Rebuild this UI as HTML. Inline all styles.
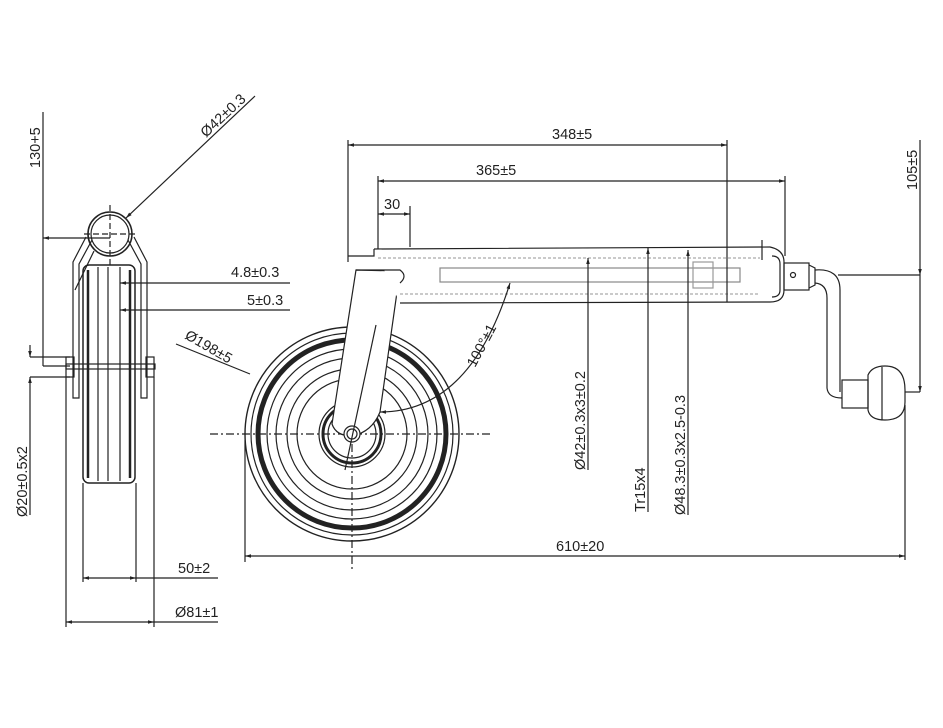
<!DOCTYPE html>
<html><head><meta charset="utf-8"><style>
html,body{margin:0;padding:0;background:#fff;}
svg{display:block;}
text{font-family:"Liberation Sans",sans-serif;font-size:14.5px;fill:#222;}
</style></head><body>
<svg width="943" height="728" viewBox="0 0 943 728" xmlns="http://www.w3.org/2000/svg">
<defs>
<marker id="a" viewBox="0 0 10 10" refX="10" refY="5" markerWidth="7" markerHeight="5" orient="auto-start-reverse"><path d="M0,2 L10,5 L0,8 z" fill="#222"/></marker>
</defs>
<g stroke="#222" stroke-width="1.2" fill="none">
<!-- LEFT VIEW -->
<line x1="43" y1="112" x2="43" y2="366"/>
<line x1="43" y1="238" x2="110" y2="238" marker-start="url(#a)"/>
<line x1="43" y1="366" x2="70" y2="366"/>
<circle cx="110" cy="234" r="22" stroke-width="1.6"/>
<circle cx="110" cy="234" r="19"/>
<line x1="110" y1="205" x2="110" y2="265" stroke-dasharray="6,3"/>
<line x1="84" y1="234" x2="138" y2="234" stroke-dasharray="6,3"/>
<line x1="255" y1="96" x2="126" y2="218" marker-end="url(#a)"/>
<line x1="94" y1="251" x2="75" y2="290" />
<path d="M86,237 L73,262 L73,398 L79,398 L79,264 L92,240"/>
<path d="M134,237 L147,262 L147,398 L141,398 L141,264 L128,240"/>
<rect x="83" y="265" width="52" height="218" rx="6" stroke-width="1.5"/>
<line x1="88" y1="270" x2="88" y2="478" stroke-width="2.5"/>
<line x1="98" y1="267" x2="98" y2="481"/>
<line x1="108" y1="267" x2="108" y2="481"/>
<line x1="120" y1="267" x2="120" y2="481"/>
<line x1="130" y1="270" x2="130" y2="478" stroke-width="2.5"/>
<rect x="66" y="364" width="89" height="5"/>
<rect x="66" y="357" width="8" height="20"/>
<rect x="146" y="357" width="8" height="20"/>
<line x1="30" y1="357" x2="70" y2="357"/>
<line x1="30" y1="377" x2="70" y2="377"/>
<line x1="30" y1="345" x2="30" y2="357" marker-end="url(#a)"/>
<line x1="30" y1="515" x2="30" y2="377" marker-end="url(#a)"/>
<line x1="290" y1="283" x2="120" y2="283" marker-end="url(#a)"/>
<line x1="290" y1="310" x2="120" y2="310" marker-end="url(#a)"/>
<line x1="83" y1="483" x2="83" y2="582"/>
<line x1="136" y1="483" x2="136" y2="582"/>
<line x1="83" y1="578" x2="136" y2="578" marker-start="url(#a)" marker-end="url(#a)"/>
<line x1="136" y1="578" x2="218" y2="578"/>
<line x1="66" y1="377" x2="66" y2="627"/>
<line x1="154" y1="377" x2="154" y2="627"/>
<line x1="66" y1="622" x2="154" y2="622" marker-start="url(#a)" marker-end="url(#a)"/>
<line x1="154" y1="622" x2="218" y2="622"/>
<line x1="176" y1="344" x2="250" y2="374"/>

<!-- MAIN WHEEL -->
<circle cx="352" cy="434" r="107" stroke-width="1.4"/>
<circle cx="352" cy="434" r="101"/>
<circle cx="352" cy="434" r="94" stroke-width="5"/>
<circle cx="352" cy="434" r="85"/>
<circle cx="352" cy="434" r="76"/>
<circle cx="352" cy="434" r="65"/>
<circle cx="352" cy="434" r="55"/>
<circle cx="352" cy="434" r="33"/>
<circle cx="352" cy="434" r="29" stroke-width="3"/>
<circle cx="352" cy="434" r="24"/>
<line x1="210" y1="434" x2="490" y2="434" stroke-dasharray="8,3,2,3"/>
<line x1="352" y1="300" x2="352" y2="572" stroke-dasharray="8,3,2,3"/>
<!-- fork -->
<path d="M356,270 L400,271 L380,412 Q372,432 352,436 Q336,436 332,424 Z" fill="#fff"/>
<circle cx="352" cy="434" r="8" fill="#fff"/>
<circle cx="352" cy="434" r="5"/>
<line x1="376" y1="325" x2="345" y2="470"/>
<!-- tube -->
<path d="M374,249 L770,247 Q784,250 784,262 L784,290 Q784,302 770,302 L400,303" fill="#fff"/>
<path d="M348,256 L374,256 L374,249" />
<line x1="348" y1="256" x2="348" y2="262"/>
<path d="M356,270 L400,270 Q408,276 400,283"/>
<line x1="378" y1="258" x2="760" y2="258" stroke="#aaa" stroke-dasharray="3,2"/>
<line x1="400" y1="294" x2="760" y2="294" stroke="#aaa" stroke-dasharray="3,2"/>
<rect x="440" y="268" width="300" height="14" stroke="#888"/>
<rect x="693" y="262" width="20" height="26" stroke="#999"/>
<line x1="727" y1="247" x2="727" y2="302"/>
<line x1="762" y1="240" x2="762" y2="260"/>
<path d="M772,256 Q780,256 780,264 L780,290 Q780,297 772,297" />
<!-- crank -->
<rect x="784" y="263" width="25" height="27"/>
<circle cx="793" cy="275" r="2.5"/>
<path d="M809,265 L815,268 L815,285 L809,288"/>
<path d="M815,270 Q840,268 840,290 L840,392"/>
<path d="M815,283 Q827,284 827,298 L827,388 Q828,398 842,398"/>
<rect x="842" y="380" width="26" height="28"/>
<path d="M868,375 Q872,366 885,366 Q905,366 905,390 L905,402 Q905,420 885,420 Q870,420 868,410 Z"/>
<line x1="882" y1="367" x2="882" y2="420"/>
<line x1="905" y1="392" x2="920" y2="392"/>
<line x1="905" y1="405" x2="905" y2="560"/>
<!-- dims main -->
<line x1="348" y1="140" x2="348" y2="256"/>
<line x1="727" y1="140" x2="727" y2="247"/>
<line x1="348" y1="145" x2="727" y2="145" marker-start="url(#a)" marker-end="url(#a)"/>
<line x1="378" y1="176" x2="378" y2="249"/>
<line x1="785" y1="176" x2="785" y2="256"/>
<line x1="378" y1="181" x2="785" y2="181" marker-start="url(#a)" marker-end="url(#a)"/>
<line x1="410" y1="206" x2="410" y2="247"/>
<line x1="378" y1="214" x2="410" y2="214" marker-start="url(#a)" marker-end="url(#a)"/>
<line x1="838" y1="275" x2="920" y2="275"/>
<line x1="920" y1="140" x2="920" y2="275" marker-end="url(#a)"/>
<line x1="920" y1="392" x2="920" y2="275" marker-start="url(#a)"/>
<line x1="245" y1="440" x2="245" y2="562"/>
<line x1="245" y1="556" x2="905" y2="556" marker-start="url(#a)" marker-end="url(#a)"/>
<line x1="588" y1="470" x2="588" y2="258" marker-end="url(#a)"/>
<line x1="648" y1="512" x2="648" y2="248" marker-end="url(#a)"/>
<line x1="688" y1="515" x2="688" y2="250" marker-end="url(#a)"/>
<path d="M380,412 Q470,412 510,283" marker-start="url(#a)" marker-end="url(#a)"/>
</g>
<g>
<text transform="translate(40,168) rotate(-90)">130+5</text>
<text transform="translate(206,138) rotate(-43)">Ø42±0.3</text>
<text x="231" y="277">4.8±0.3</text>
<text x="247" y="305">5±0.3</text>
<text transform="translate(184,338) rotate(30)">Ø198±5</text>
<text transform="translate(27,517) rotate(-90)">Ø20±0.5x2</text>
<text x="178" y="573">50±2</text>
<text x="175" y="617">Ø81±1</text>
<text x="552" y="139">348±5</text>
<text x="476" y="175">365±5</text>
<text x="384" y="209">30</text>
<text transform="translate(917,190) rotate(-90)">105±5</text>
<text x="556" y="551">610±20</text>
<text transform="translate(585,470) rotate(-90)">Ø42±0.3x3±0.2</text>
<text transform="translate(645,512) rotate(-90)">Tr15x4</text>
<text transform="translate(685,515) rotate(-90)">Ø48.3±0.3x2.5-0.3</text>
<text transform="translate(475,368) rotate(-62)">100°±1</text>
</g>
</svg>
</body></html>
